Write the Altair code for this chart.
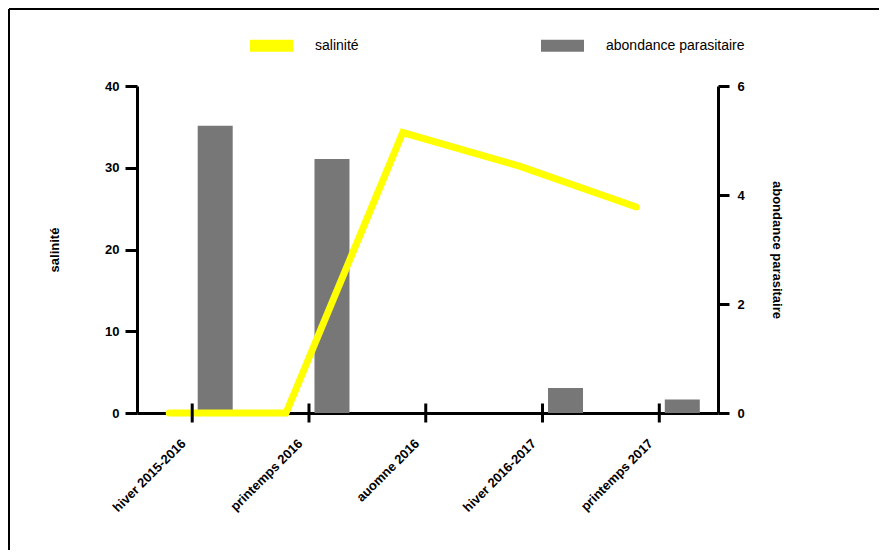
import json
import altair as alt
import pandas as pd

categories = ["hiver 2015-2016", "printemps 2016", "auomne 2016", "hiver 2016-2017", "printemps 2017"]
salinite = [0, 0, 34.3, 30.2, 25.2]
abondance = [5.27, 4.66, 0, 0.46, 0.25]
series = ["salinité", "abondance parasitaire"]
colors = ["#ffff00", "#777777"]
sal_ticks = [0, 10, 20, 30, 40]
ab_ticks = [0, 2, 4, 6]

idx = list(range(len(categories)))
df_sal = pd.DataFrame({"idx": idx, "categorie": categories, "valeur": salinite, "serie": series[0]})
df_ab = pd.DataFrame({"idx": idx, "categorie": categories, "valeur": abondance, "serie": series[1]})

FONT = "Liberation Sans"
label_expr = json.dumps(categories, ensure_ascii=False) + "[datum.value]"

x_scale = alt.Scale(domain=[-0.43, 4.46], nice=False, zero=False)
x_axis = alt.Axis(values=idx, labelExpr=label_expr, labelAngle=-45, labelAlign="right",
                  labelBaseline="middle", labelFont=FONT, labelFontSize=13, labelFontWeight="bold",
                  labelColor="black", ticks=False, tickSize=0, labelPadding=28, labelOffset=-9,
                  domainColor="black", domainWidth=3, grid=False, title=None)
x_enc = alt.X("idx:Q", scale=x_scale, axis=x_axis)

legend = alt.Legend(title=None, orient="none", direction="horizontal", legendX=113, legendY=-62,
                    symbolType="M-1,-0.28H1V0.28H-1Z", symbolSize=1849, symbolStrokeWidth=0,
                    labelFont=FONT, labelFontSize=14, labelColor="black", labelOffset=22,
                    columnPadding=182)
color_enc = alt.Color("serie:N", scale=alt.Scale(domain=series, range=colors), legend=legend)

sal_scale = alt.Scale(domain=[0, 40], nice=False)
sal_axis = alt.Axis(orient="left", values=sal_ticks, title="salinité", titleFont=FONT,
                    titleFontSize=13, titleFontWeight="bold", titleColor="black", titlePadding=43,
                    labelFont=FONT, labelFontSize=13, labelFontWeight="bold", labelColor="black",
                    labelPadding=6, tickSize=12, tickWidth=3, tickColor="black",
                    domainWidth=3, domainColor="black", grid=False)
ab_scale = alt.Scale(domain=[0, 6], nice=False)
ab_axis = alt.Axis(orient="right", values=ab_ticks, title="abondance parasitaire", titleFont=FONT,
                   titleFontSize=13, titleFontWeight="bold", titleColor="black", titlePadding=25,
                   titleAngle=90, labelFont=FONT, labelFontSize=13, labelFontWeight="bold",
                   labelColor="black", labelPadding=8, tickSize=11, tickWidth=3, tickColor="black",
                   domainWidth=3, domainColor="black", grid=False)

bars = alt.Chart(df_ab).mark_bar(width=35, xOffset=23).encode(
    x=x_enc,
    y=alt.Y("valeur:Q", scale=ab_scale, axis=ab_axis),
    color=color_enc,
)

line = alt.Chart(df_sal).mark_line(strokeWidth=7, strokeCap="round", xOffset=-23).encode(
    x=x_enc,
    y=alt.Y("valeur:Q", scale=sal_scale, axis=sal_axis),
    color=color_enc,
)

xticks = alt.Chart(df_sal).mark_tick(orient="vertical", size=19, thickness=3, color="black",
                                     opacity=1).encode(
    x=x_enc,
    y=alt.Y(datum=0, scale=sal_scale, axis=sal_axis),
)

frame = alt.Data(values=[{}])
border_left = alt.Chart(frame).mark_rule(color="black", strokeWidth=2).encode(
    x=alt.value(-128), y=alt.value(-77), y2=alt.value(472))
border_top = alt.Chart(frame).mark_rule(color="black", strokeWidth=2).encode(
    x=alt.value(-128), x2=alt.value(750), y=alt.value(-77))

chart = alt.layer(
    bars,
    alt.layer(line, xticks, border_left, border_top),
).resolve_scale(y="independent").properties(
    width=581, height=327,
    background="white",
    padding={"left": 129, "top": 78, "right": 161, "bottom": 137},
    autosize=alt.AutoSizeParams(type="none"),
).configure_view(stroke=None)

chart.save("out.html", embed_options={"renderer": "svg", "actions": False})
